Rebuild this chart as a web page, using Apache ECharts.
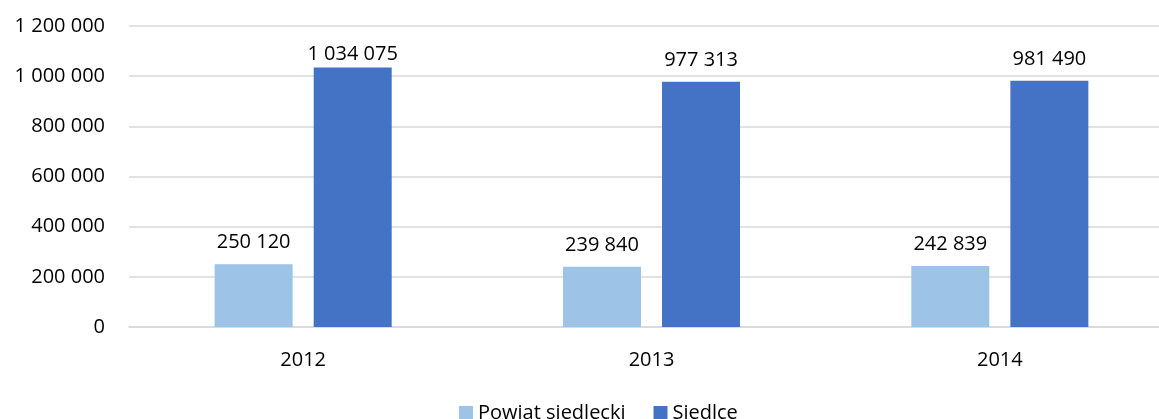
<!DOCTYPE html>
<html>
<head>
<meta charset="utf-8">
<script src="https://cdn.jsdelivr.net/npm/echarts@6/dist/echarts.min.js"></script>
<style>
  html, body { margin: 0; padding: 0; background: #fff; }
  #chart { width: 1159px; height: 419px; }
</style>
</head>
<body>
<div id="chart"></div>
<script>
const years = ['2012', '2013', '2014']
const powiat = [250120, 239840, 242839]
const siedlce = [1034075, 977313, 981490]
const seriesNames = ['Powiat siedlecki', 'Siedlce']

const font = '"Open Sans", "Noto Sans", sans-serif'
const fmt = v => String(v).replace(/\B(?=(\d{3})+(?!\d))/g, ' ')

// labels sit above the bar; the tallest one is squeezed under the top line
const withLabels = vals => vals.map(v => v > 1000000 ? { value: v, label: { distance: 3 } } : v)

const chart = echarts.init(document.getElementById('chart'))
chart.setOption({
  animation: false,
  textStyle: { fontFamily: font },
  color: ['#9DC3E6', '#4472C4'],
  grid: { left: 129, top: 26, right: -15, bottom: 92, outerBoundsMode: 'none', containLabel: false },
  legend: {
    bottom: -9,
    left: 454,
    itemWidth: 14,
    itemHeight: 14,
    itemGap: 28,
    icon: 'rect',
    textStyle: { fontSize: 20, color: '#000', fontFamily: font },
    data: seriesNames
  },
  xAxis: {
    type: 'category',
    data: years,
    axisLine: { lineStyle: { color: '#D9D9D9', width: 1.5 } },
    axisTick: { show: false },
    axisLabel: { color: '#000', fontSize: 20, margin: 23 }
  },
  yAxis: {
    type: 'value',
    min: 0,
    max: 1200000,
    interval: 200000,
    axisLine: { show: false },
    axisTick: { show: false },
    splitLine: { lineStyle: { color: '#D9D9D9', width: 1.5 } },
    axisLabel: { color: '#000', fontSize: 20, margin: 24, formatter: fmt }
  },
  series: [
    {
      name: seriesNames[0],
      type: 'bar',
      data: withLabels(powiat),
      barWidth: 78,
      barGap: '27%',
      label: { show: true, position: 'top', distance: 12, color: '#000', fontSize: 20, formatter: p => fmt(p.value) }
    },
    {
      name: seriesNames[1],
      type: 'bar',
      data: withLabels(siedlce),
      barWidth: 78,
      label: { show: true, position: 'top', distance: 12, color: '#000', fontSize: 20, formatter: p => fmt(p.value) }
    }
  ]
})
</script>
</body>
</html>
